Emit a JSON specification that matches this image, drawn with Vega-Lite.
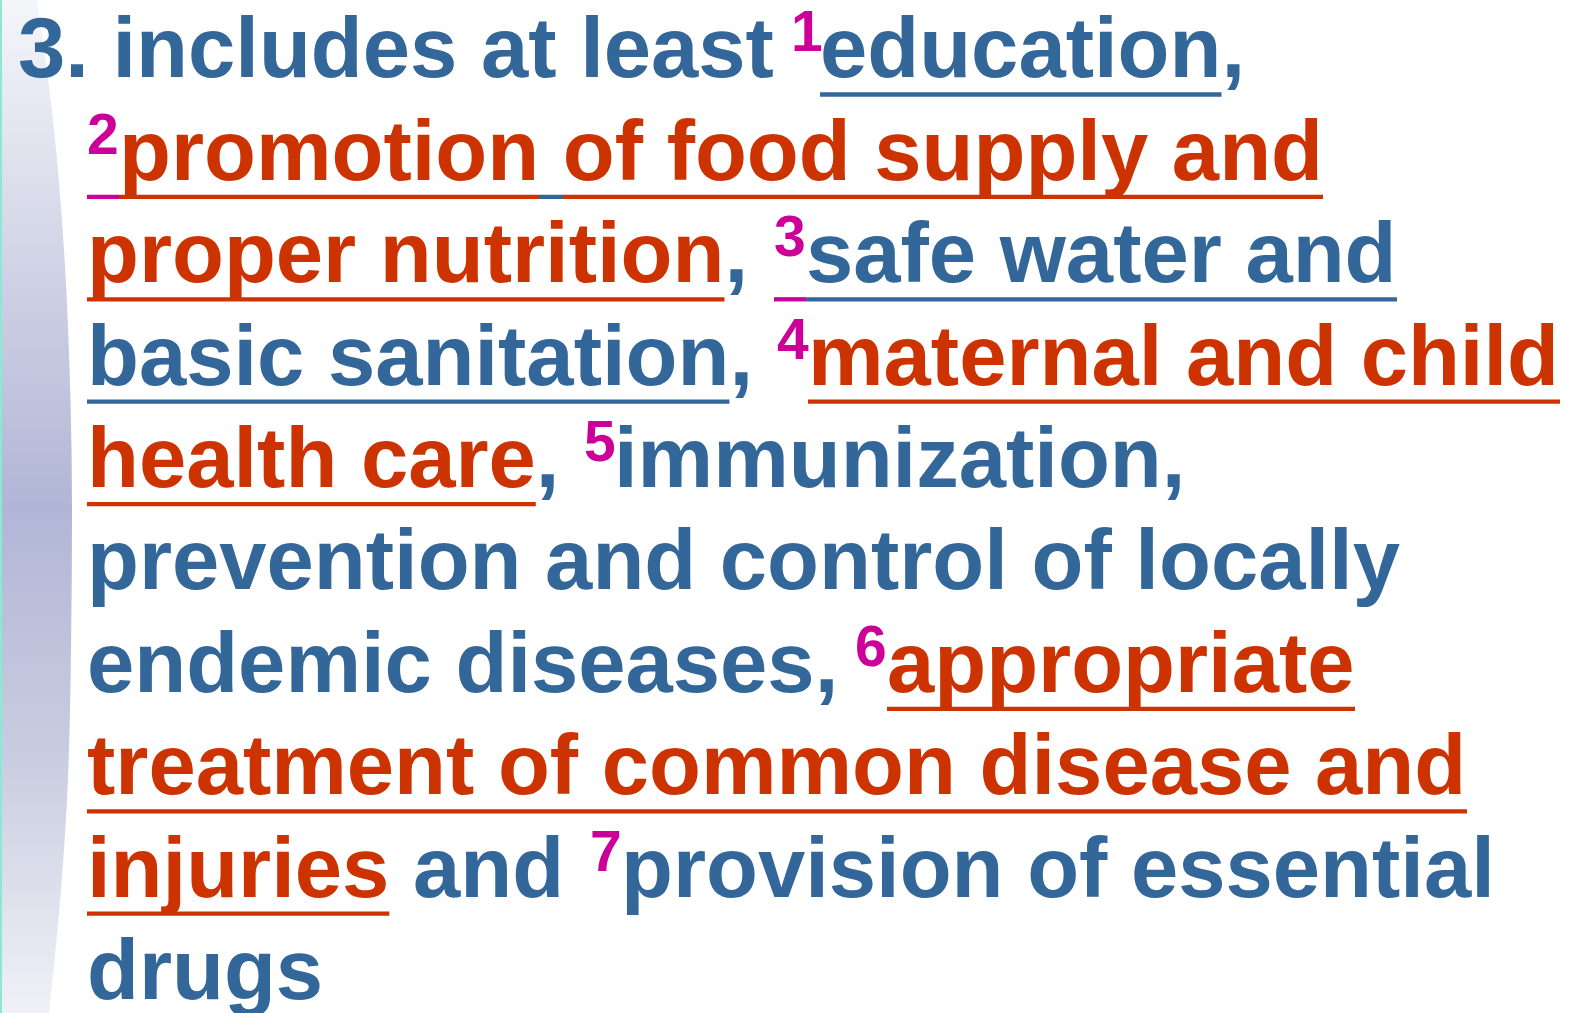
{
  "$schema": "https://vega.github.io/schema/vega-lite/v6.json",
  "width": 1577,
  "height": 1013,
  "padding": 0,
  "autosize": {"type": "none"},
  "background": "white",
  "config": {"view": {"stroke": null}},
  "datasets": {
    "band": [
      {"py": 0, "edge": 37}, {"py": 120, "edge": 53}, {"py": 250, "edge": 64},
      {"py": 400, "edge": 70.5}, {"py": 510, "edge": 72}, {"py": 650, "edge": 71},
      {"py": 800, "edge": 67}, {"py": 890, "edge": 61}, {"py": 1013, "edge": 49}
    ],
    "segs": [
      {"line": 1, "x": 18, "text": "3. includes at least", "ink": "blue", "role": "main"},
      {"line": 1, "x": 791, "text": "1", "ink": "magenta", "role": "sup"},
      {"line": 1, "x": 820, "text": "education", "ink": "blue", "role": "main"},
      {"line": 1, "x": 1221.5, "text": ",", "ink": "blue", "role": "main"},
      {"line": 2, "x": 87, "text": "2", "ink": "magenta", "role": "sup"},
      {"line": 2, "x": 119, "text": "promotion of food supply and", "ink": "red", "role": "main"},
      {"line": 3, "x": 87, "text": "proper nutrition", "ink": "red", "role": "main"},
      {"line": 3, "x": 724.5, "text": ",", "ink": "blue", "role": "main"},
      {"line": 3, "x": 774, "text": "3", "ink": "magenta", "role": "sup"},
      {"line": 3, "x": 806, "text": "safe water and", "ink": "blue", "role": "main"},
      {"line": 4, "x": 87, "text": "basic sanitation", "ink": "blue", "role": "main"},
      {"line": 4, "x": 729.4, "text": ",", "ink": "blue", "role": "main"},
      {"line": 4, "x": 777, "text": "4", "ink": "magenta", "role": "sup"},
      {"line": 4, "x": 808, "text": "maternal and child", "ink": "red", "role": "main"},
      {"line": 5, "x": 87, "text": "health care", "ink": "red", "role": "main"},
      {"line": 5, "x": 535.8, "text": ",", "ink": "blue", "role": "main"},
      {"line": 5, "x": 584, "text": "5", "ink": "magenta", "role": "sup"},
      {"line": 5, "x": 614, "text": "immunization,", "ink": "blue", "role": "main"},
      {"line": 6, "x": 87, "text": "prevention and control of locally", "ink": "blue", "role": "main"},
      {"line": 7, "x": 87, "text": "endemic diseases,", "ink": "blue", "role": "main"},
      {"line": 7, "x": 855, "text": "6", "ink": "magenta", "role": "sup"},
      {"line": 7, "x": 887, "text": "appropriate", "ink": "red", "role": "main"},
      {"line": 8, "x": 87, "text": "treatment of common disease and", "ink": "red", "role": "main"},
      {"line": 9, "x": 87, "text": "injuries", "ink": "red", "role": "main"},
      {"line": 9, "x": 413, "text": "and", "ink": "blue", "role": "main"},
      {"line": 9, "x": 590, "text": "7", "ink": "magenta", "role": "sup"},
      {"line": 9, "x": 621, "text": "provision of essential", "ink": "blue", "role": "main"},
      {"line": 10, "x": 87, "text": "drugs", "ink": "blue", "role": "main"}
    ],
    "unders": [
      {"line": 1, "x0": 820, "x1": 1221.5, "ink": "blue"},
      {"line": 2, "x0": 87, "x1": 119, "ink": "magenta"},
      {"line": 2, "x0": 119, "x1": 539, "ink": "red"},
      {"line": 2, "x0": 539, "x1": 563, "ink": "blue"},
      {"line": 2, "x0": 563, "x1": 1323, "ink": "red"},
      {"line": 3, "x0": 87, "x1": 724.5, "ink": "red"},
      {"line": 3, "x0": 774, "x1": 806, "ink": "magenta"},
      {"line": 3, "x0": 806, "x1": 1397, "ink": "blue"},
      {"line": 4, "x0": 87, "x1": 729.4, "ink": "blue"},
      {"line": 4, "x0": 808, "x1": 1560, "ink": "red"},
      {"line": 5, "x0": 87, "x1": 535.8, "ink": "red"},
      {"line": 7, "x0": 887, "x1": 1355, "ink": "red"},
      {"line": 8, "x0": 87, "x1": 1467, "ink": "red"},
      {"line": 9, "x0": 87, "x1": 389.3, "ink": "red"}
    ]
  },
  "layer": [
    {
      "data": {"name": "band"},
      "mark": {
        "type": "area",
        "orient": "horizontal",
        "interpolate": "monotone",
        "color": {
          "gradient": "linear", "x1": 0, "y1": 0, "x2": 0, "y2": 1,
          "stops": [
            {"offset": 0, "color": "#f5f6fa"},
            {"offset": 0.25, "color": "#d2d5e6"},
            {"offset": 0.5, "color": "#b1b6d6"},
            {"offset": 0.75, "color": "#c9cde0"},
            {"offset": 1, "color": "#f0f1f7"}
          ]
        }
      },
      "encoding": {
        "y": {"field": "py", "type": "quantitative", "scale": {"domain": [0, 1013], "reverse": true, "nice": false, "zero": false}, "axis": null},
        "x": {"field": "edge", "type": "quantitative", "stack": null, "scale": {"domain": [0, 1577], "nice": false, "zero": false}, "axis": null}
      }
    },
    {
      "data": {"values": [{"edgeLine": 1}]},
      "mark": {"type": "rule", "color": "#8fe6d2", "strokeWidth": 2},
      "encoding": {
        "x": {"datum": 1, "type": "quantitative", "scale": {"domain": [0, 1577], "nice": false, "zero": false}, "axis": null}
      }
    },
    {
      "data": {"name": "unders"},
      "mark": {"type": "rule", "strokeWidth": 4.3, "yOffset": 17, "strokeCap": "butt"},
      "encoding": {
        "x": {"field": "x0", "type": "quantitative", "scale": {"domain": [0, 1577], "nice": false, "zero": false}, "axis": null},
        "x2": {"field": "x1"},
        "y": {"field": "line", "type": "quantitative", "scale": {"domain": [0.2432, 10.1358], "reverse": true, "nice": false, "zero": false}, "axis": null},
        "color": {"field": "ink", "type": "nominal", "scale": {"domain": ["blue", "red", "magenta"], "range": ["#336699", "#CC3300", "#CC0099"]}, "legend": null}
      }
    },
    {
      "data": {"name": "segs"},
      "transform": [{"filter": "datum.role === 'main'"}],
      "mark": {"type": "text", "font": "Liberation Sans", "fontWeight": "bold", "fontSize": 85, "align": "left", "baseline": "alphabetic"},
      "encoding": {
        "x": {"field": "x", "type": "quantitative", "scale": {"domain": [0, 1577], "nice": false, "zero": false}, "axis": null},
        "y": {"field": "line", "type": "quantitative", "scale": {"domain": [0.2432, 10.1358], "reverse": true, "nice": false, "zero": false}, "axis": null},
        "text": {"field": "text"},
        "color": {"field": "ink", "type": "nominal", "scale": {"domain": ["blue", "red", "magenta"], "range": ["#336699", "#CC3300", "#CC0099"]}, "legend": null}
      }
    },
    {
      "data": {"name": "segs"},
      "transform": [{"filter": "datum.role === 'sup'"}],
      "mark": {"type": "text", "font": "Liberation Sans", "fontWeight": "bold", "fontSize": 57, "align": "left", "baseline": "alphabetic", "dy": -26},
      "encoding": {
        "x": {"field": "x", "type": "quantitative", "scale": {"domain": [0, 1577], "nice": false, "zero": false}, "axis": null},
        "y": {"field": "line", "type": "quantitative", "scale": {"domain": [0.2432, 10.1358], "reverse": true, "nice": false, "zero": false}, "axis": null},
        "text": {"field": "text"},
        "color": {"field": "ink", "type": "nominal", "scale": {"domain": ["blue", "red", "magenta"], "range": ["#336699", "#CC3300", "#CC0099"]}, "legend": null}
      }
    }
  ],
  "resolve": {"scale": {"y": "independent"}}
}
